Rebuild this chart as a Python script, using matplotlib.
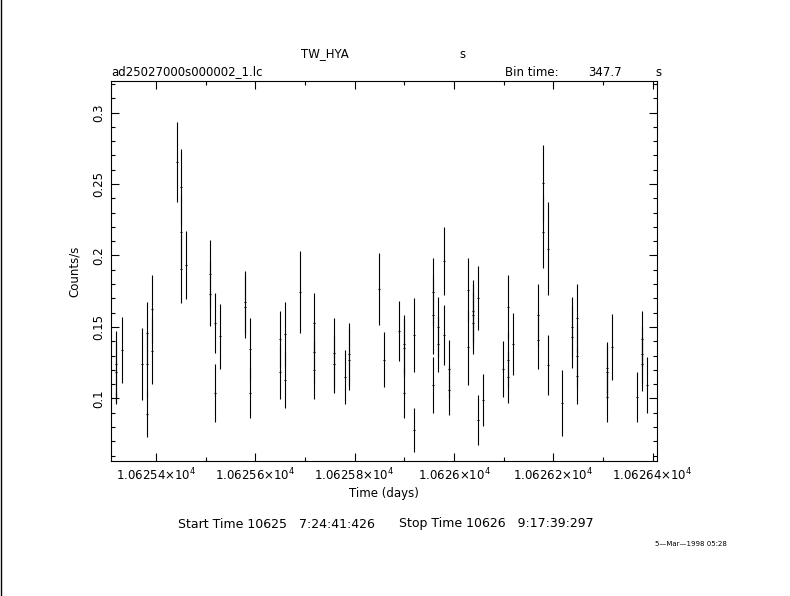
import numpy as np
import matplotlib
matplotlib.use('Agg')
import matplotlib.pyplot as plt
from matplotlib.ticker import MultipleLocator, FuncFormatter

# light curve TW_HYA, bins of 347.7 s
time = [10625.3201, 10625.3201, 10625.3201, 10625.3309, 10625.3712,
        10625.3813, 10625.3813, 10625.3813, 10625.3913, 10625.3913,
        10625.4417, 10625.4509, 10625.4509, 10625.4509, 10625.4598,
        10625.5093, 10625.5093, 10625.5194, 10625.5194, 10625.5295,
        10625.5798, 10625.5798, 10625.5899, 10625.5899, 10625.6503,
        10625.6503, 10625.6604, 10625.6604, 10625.6906, 10625.7188,
        10625.7188, 10625.7188, 10625.7590, 10625.7590, 10625.7812,
        10625.7893, 10625.7893, 10625.8497, 10625.8597, 10625.8899,
        10625.9000, 10625.9000, 10625.9000, 10625.9201, 10625.9201,
        10625.9584, 10625.9584, 10625.9584, 10625.9685, 10625.9685,
        10625.9806, 10625.9806, 10625.9906, 10625.9906, 10626.0289,
        10626.0289, 10626.0390, 10626.0390, 10626.0390, 10626.0490,
        10626.0490, 10626.0591, 10626.0994, 10626.1094, 10626.1094,
        10626.1094, 10626.1195, 10626.1686, 10626.1686, 10626.1799,
        10626.1799, 10626.1900, 10626.1900, 10626.2182, 10626.2383,
        10626.2383, 10626.2484, 10626.2484, 10626.2484, 10626.3088,
        10626.3088, 10626.3088, 10626.3189, 10626.3692, 10626.3793,
        10626.3793, 10626.3793, 10626.3893]
rate = [0.1241, 0.1185, 0.1003, 0.1340, 0.1241,
        0.1457, 0.1241, 0.0893, 0.1625, 0.1334,
        0.2653, 0.2478, 0.2164, 0.1905, 0.1933,
        0.1870, 0.1732, 0.1527, 0.1038, 0.1436,
        0.1674, 0.1639, 0.1345, 0.1038, 0.1415,
        0.1185, 0.1450, 0.1129, 0.1744, 0.1527,
        0.1324, 0.1199, 0.1318, 0.1241, 0.1150,
        0.1310, 0.1271, 0.1765, 0.1271, 0.1473,
        0.1380, 0.1352, 0.1038, 0.1443, 0.0779,
        0.1744, 0.1583, 0.1094, 0.1499, 0.1380,
        0.1961, 0.1443, 0.1206, 0.1059, 0.1758,
        0.1359, 0.1611, 0.1583, 0.1527, 0.1702,
        0.0849, 0.0989, 0.1206, 0.1639, 0.1271,
        0.1150, 0.1380, 0.1583, 0.1410, 0.2508,
        0.2164, 0.2047, 0.1234, 0.0968, 0.1499,
        0.1427, 0.1562, 0.1297, 0.1157, 0.1213,
        0.1185, 0.1010, 0.1359, 0.1010, 0.1415,
        0.1310, 0.1241, 0.1094]
rate_err = [0.0233, 0.0212, 0.0040, 0.0233, 0.0249,
            0.0219, 0.0233, 0.0166, 0.0240, 0.0231,
            0.0280, 0.0268, 0.0256, 0.0240, 0.0236,
            0.0240, 0.0228, 0.0210, 0.0205, 0.0228,
            0.0219, 0.0219, 0.0219, 0.0177, 0.0198,
            0.0191, 0.0226, 0.0198, 0.0289, 0.0212,
            0.0221, 0.0205, 0.0247, 0.0205, 0.0186,
            0.0219, 0.0214, 0.0254, 0.0191, 0.0210,
            0.0205, 0.0205, 0.0177, 0.0259, 0.0156,
            0.0240, 0.0275, 0.0198, 0.0212, 0.0198,
            0.0240, 0.0210, 0.0205, 0.0177, 0.0226,
            0.0263, 0.0219, 0.0221, 0.0214, 0.0221,
            0.0177, 0.0180, 0.0198, 0.0226, 0.0200,
            0.0184, 0.0217, 0.0219, 0.0205, 0.0268,
            0.0254, 0.0326, 0.0210, 0.0228, 0.0212,
            0.0217, 0.0240, 0.0221, 0.0198, 0.0184,
            0.0180, 0.0177, 0.0233, 0.0175, 0.0198,
            0.0200, 0.0191, 0.0198]

bin_time = 347.7  # s
half_bin = bin_time / 86400.0 / 2

W, H = 790, 596
fig = plt.figure(figsize=(W / 100, H / 100), dpi=100)
plt.rcParams['font.family'] = 'DejaVu Sans'

# axes box in pixels: left 111, right 657, top 81, bottom 461
ax = fig.add_axes([111 / W, 1 - 461 / H, 546 / W, 380 / H])
ax.errorbar(time, rate, yerr=rate_err, xerr=half_bin, fmt='none',
            ecolor='black', elinewidth=0.8, capsize=0)

ax.set_xlim(10625.3094, 10626.4089)
ax.set_ylim(0.0562, 0.3221)

ax.xaxis.set_major_locator(MultipleLocator(0.2))
ax.xaxis.set_minor_locator(MultipleLocator(0.1))
ax.yaxis.set_major_locator(MultipleLocator(0.05))
ax.yaxis.set_minor_locator(MultipleLocator(0.01))


def fmt_x(v, pos):
    s = ('%.5f' % (v / 1e4)).rstrip('0')
    return s + r'$\times$10$^{4}$'


ax.xaxis.set_major_formatter(FuncFormatter(fmt_x))
ax.yaxis.set_major_formatter(FuncFormatter(lambda v, p: ('%.2f' % v).rstrip('0')))

ax.tick_params(which='both', direction='in', top=True, right=True, width=0.8)
ax.tick_params(which='major', length=6, labelsize=8.5, pad=4)
ax.tick_params(which='minor', length=3)
for lab in ax.get_yticklabels():
    lab.set_rotation(90)
    lab.set_va('center')
for sp in ax.spines.values():
    sp.set_linewidth(0.8)

ax.set_xlabel('Time (days)', fontsize=8.5, labelpad=3)
ax.set_ylabel('Counts/s', fontsize=8.5, labelpad=8)


def ft(x, y, s, **kw):
    kw.setdefault('fontsize', 8.5)
    fig.text(x / W, 1 - y / H, s, va='center', **kw)


ft(325, 54, 'TW_HYA', ha='center')
ft(462, 54, 's', ha='center')
ft(111, 72, 'ad25027000s000002_1.lc', ha='left')
ft(505, 72, 'Bin time:', ha='left')
ft(588, 72, '347.7', ha='left')
ft(658, 72, 's', ha='center')
ft(178, 524, 'Start Time 10625   7:24:41:426', ha='left', fontsize=9)
ft(399, 524, 'Stop Time 10626   9:17:39:297', ha='left', fontsize=9)
ft(655, 544, '5\u2014Mar\u20141998 05:28', ha='left', fontsize=5)

fig.add_artist(plt.Line2D([0.5 / W, 0.5 / W], [0, 1], color='black', lw=1))

fig.savefig('out.png', dpi=100)
